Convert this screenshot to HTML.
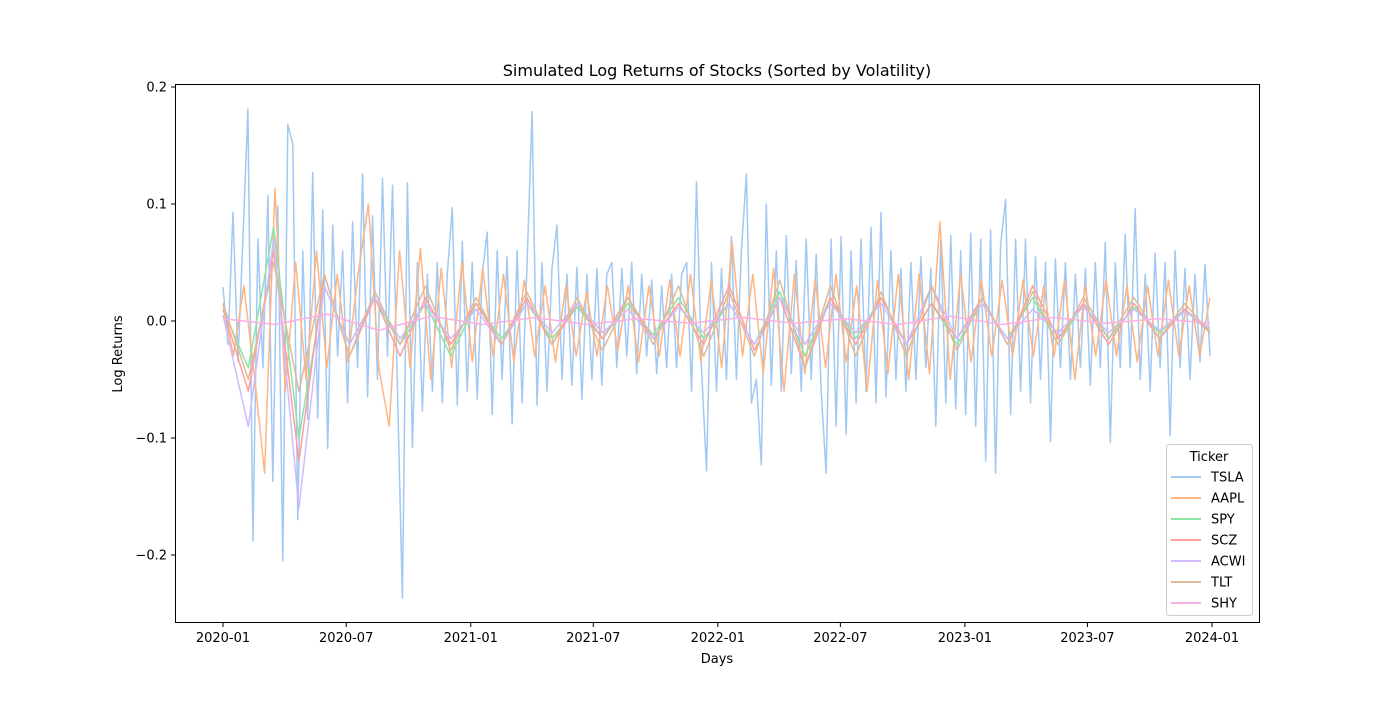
<!DOCTYPE html>
<html><head><meta charset="utf-8"><style>
body{margin:0;background:#fff;font-family:"Liberation Sans","DejaVu Sans",sans-serif}
svg text{font-family:"DejaVu Sans","Liberation Sans",sans-serif;fill:#000}
</style></head><body>
<svg id="chart" width="1400" height="700" viewBox="0 0 1400 700" xmlns="http://www.w3.org/2000/svg">
<rect width="1400" height="700" fill="#fff"/>
<text x="717" y="76" font-size="16" text-anchor="middle">Simulated Log Returns of Stocks (Sorted by Volatility)</text>
<text x="717" y="663" font-size="13" text-anchor="middle">Days</text>
<text transform="translate(122,354) rotate(-90)" font-size="13" text-anchor="middle">Log Returns</text>
<g id="ticks"></g>
<clipPath id="clip"><rect x="175" y="84" width="1085" height="539"/></clipPath>
<g id="series" clip-path="url(#clip)"></g>
<rect x="175.5" y="84.5" width="1084" height="538" fill="none" stroke="#000" stroke-width="1"/>
<g id="legend"></g>
</svg>
<script>
const tickers=["TSLA","AAPL","SPY","SCZ","ACWI","TLT","SHY"];
const colors=["#a1c9f4","#ffb482","#8de5a1","#ff9f9b","#d0bbff","#debb9b","#fab0e4"];
const yTicks=[-0.2,-0.1,0.0,0.1,0.2];
const yTickLabels=["\u22120.2","\u22120.1","0.0","0.1","0.2"];
const xTickLabels=["2020-01","2020-07","2021-01","2021-07","2022-01","2022-07","2023-01","2023-07","2024-01"];
const startDate="2020-01-01";
const endDate="2023-12-29";
const tsla=[.029,-.02,.093,-.035,.07,.181,-.188,.07,-.04,.107,-.137,.098,-.205,.168,.151,-.17,.06,-.084,.127,-.083,.095,-.109,.082,-.03,.06,-.07,.085,-.04,.126,-.065,.09,-.05,.122,-.03,.116,-.06,-.237,.118,-.108,.05,-.077,.04,-.06,.05,-.07,.04,.097,-.072,.068,-.06,.05,-.067,.04,.076,-.08,.06,-.05,.055,-.088,.06,-.07,.05,.179,-.072,.05,-.06,.045,.082,-.05,.04,-.055,.046,-.067,.04,-.05,.045,-.055,.04,.05,-.04,.045,-.03,.05,-.045,.04,-.03,.035,-.045,.03,-.04,.04,-.04,.04,.05,-.06,.119,-.04,-.128,.05,-.06,.045,-.05,.072,-.05,.06,.126,-.07,-.05,-.123,.1,-.055,.06,-.06,.073,-.045,.052,-.06,.07,-.05,.057,-.06,-.13,.07,-.09,.072,-.097,.06,-.07,.07,-.06,.08,-.07,.093,-.065,.06,-.05,.045,-.06,.05,-.05,.055,-.04,.045,-.09,.07,-.07,.073,-.075,.06,-.08,.075,-.09,.07,-.12,.078,-.13,.065,.104,-.08,.07,-.06,.07,-.07,.055,-.05,.05,-.103,.053,-.04,.05,-.05,.04,-.04,.045,-.055,.05,-.04,.067,-.104,.05,-.04,.074,-.04,.096,-.05,.04,-.06,.058,-.04,.05,-.098,.06,-.04,.045,-.05,.04,-.035,.048,-.03];
const aapl=[.015,-.03,.03,-.045,-.13,.113,-.06,.05,-.05,.06,-.04,.04,-.035,.04,.1,-.04,-.09,.06,-.04,.062,-.05,.045,-.04,.05,-.035,.045,-.03,.04,-.035,.035,-.03,.03,-.035,.03,-.03,.025,-.03,.03,-.025,.03,-.035,.03,-.03,.035,-.03,.04,-.035,.035,-.04,.068,-.03,.04,-.045,.045,-.06,.04,-.045,.035,-.04,.04,-.035,.03,-.06,.035,-.045,.04,-.05,.04,-.045,.085,-.05,.04,-.035,.035,-.03,.035,-.03,.035,-.03,.03,-.03,.035,-.05,.03,-.03,.035,-.03,.03,-.035,.03,-.03,.035,-.03,.03,-.03,.02];
const spy=[.01,-.04,.08,-.1,.03,-.02,.02,-.02,.015,-.03,.015,-.015,.015,-.015,.012,-.015,.015,-.012,.02,-.015,.015,-.02,.025,-.03,.02,-.015,.02,-.02,.015,-.02,.015,-.015,.02,-.02,.015,-.015,.012,-.01,.01,-.008];
const scz=[.01,-.06,.06,-.12,.04,-.03,.02,-.03,.02,-.02,.015,-.02,.02,-.02,.015,-.015,.02,-.015,.015,-.02,.03,-.025,.02,-.04,.02,-.02,.02,-.02,.015,-.015,.02,-.02,.03,-.015,.015,-.02,.015,-.015,.01,-.01];
const acwi=[.005,-.09,.07,-.16,.03,-.02,.02,-.015,.015,-.015,.01,-.02,.015,-.01,.015,-.01,.01,-.015,.012,-.01,.015,-.02,.02,-.02,.015,-.01,.015,-.02,.03,-.015,.015,-.015,.01,-.01,.012,-.01,.01,-.008,.008,-.006];
const tlt=[.015,-.05,.05,-.06,.04,-.03,.025,-.02,.03,-.025,.02,-.02,.025,-.02,.02,-.025,.02,-.02,.03,-.03,.025,-.03,.035,-.04,.03,-.03,.025,-.03,.03,-.025,.02,-.02,.025,-.02,.02,-.015,.02,-.015,.015,-.01];
const shy=[.002,-.003,.006,-.008,.004,-.003,.003,-.003,.002,-.002,.003,-.002,.002,-.003,.004,-.003,.003,-.002,.002,-.002];
const seriesValues=[tsla,aapl,spy,scz,acwi,tlt,shy];

const NS="http://www.w3.org/2000/svg";
const t0=Date.parse("2020-01-01"),t1=Date.parse("2024-01-01");
function xScale(ms){return 223+(ms-t0)/(t1-t0)*989;}
function yScale(v){return 321-v*1170;}
const sMs=Date.parse(startDate),eMs=Date.parse(endDate);
const tg=document.getElementById("ticks");
yTicks.forEach((v,i)=>{
  const y=yScale(v);
  const l=document.createElementNS(NS,"line");
  
  
  l.setAttribute("x1",171);l.setAttribute("x2",175);l.setAttribute("y1",y);l.setAttribute("y2",y);l.setAttribute("stroke","#000");
  tg.appendChild(l);
  const t=document.createElementNS(NS,"text");
  
  
  t.setAttribute("x",167);t.setAttribute("y",y+4.5);t.setAttribute("font-size","13");t.setAttribute("text-anchor","end");
  t.textContent=yTickLabels[i];tg.appendChild(t);
});
xTickLabels.forEach(lbl=>{
  const x=xScale(Date.parse(lbl+"-01"));
  const l=document.createElementNS(NS,"line");
  
  
  l.setAttribute("x1",x);l.setAttribute("x2",x);l.setAttribute("y1",623);l.setAttribute("y2",627);l.setAttribute("stroke","#000");
  tg.appendChild(l);
  const t=document.createElementNS(NS,"text");
  
  
  t.setAttribute("x",x);t.setAttribute("y",642);t.setAttribute("font-size","13");t.setAttribute("text-anchor","middle");
  t.textContent=lbl;tg.appendChild(t);
});
const sg=document.getElementById("series");
seriesValues.forEach((vals,k)=>{
  const n=vals.length;
  const pts=vals.map((v,i)=>{const ms=sMs+(eMs-sMs)*i/(n-1);return xScale(ms).toFixed(1)+","+yScale(v).toFixed(1);}).join(" ");
  const p=document.createElementNS(NS,"polyline");
  
  
  p.setAttribute("points",pts);p.setAttribute("fill","none");p.setAttribute("stroke",colors[k]);p.setAttribute("stroke-width","1.5");p.setAttribute("stroke-linejoin","round");
  sg.appendChild(p);
});
const lg=document.getElementById("legend");
const box=document.createElementNS(NS,"rect");


box.setAttribute("x",1166.5);box.setAttribute("y",444.5);box.setAttribute("width",86);box.setAttribute("height",171);box.setAttribute("rx",3);
box.setAttribute("fill","#fff");box.setAttribute("fill-opacity","0.8");box.setAttribute("stroke","#ccc");
lg.appendChild(box);
const lt=document.createElementNS(NS,"text");


lt.setAttribute("x",1209);lt.setAttribute("y",461);lt.setAttribute("font-size","13");lt.setAttribute("text-anchor","middle");
lt.textContent="Ticker";lg.appendChild(lt);
tickers.forEach((tk,i)=>{
  const y=477+i*21;
  const l=document.createElementNS(NS,"line");
  
  
  l.setAttribute("x1",1171);l.setAttribute("x2",1201);l.setAttribute("y1",y);l.setAttribute("y2",y);l.setAttribute("stroke",colors[i]);l.setAttribute("stroke-width","2");
  lg.appendChild(l);
  const t=document.createElementNS(NS,"text");
  
  
  t.setAttribute("x",1211);t.setAttribute("y",y+4.5);t.setAttribute("font-size","13");
  t.textContent=tk;lg.appendChild(t);
});
</script>
</body></html>
